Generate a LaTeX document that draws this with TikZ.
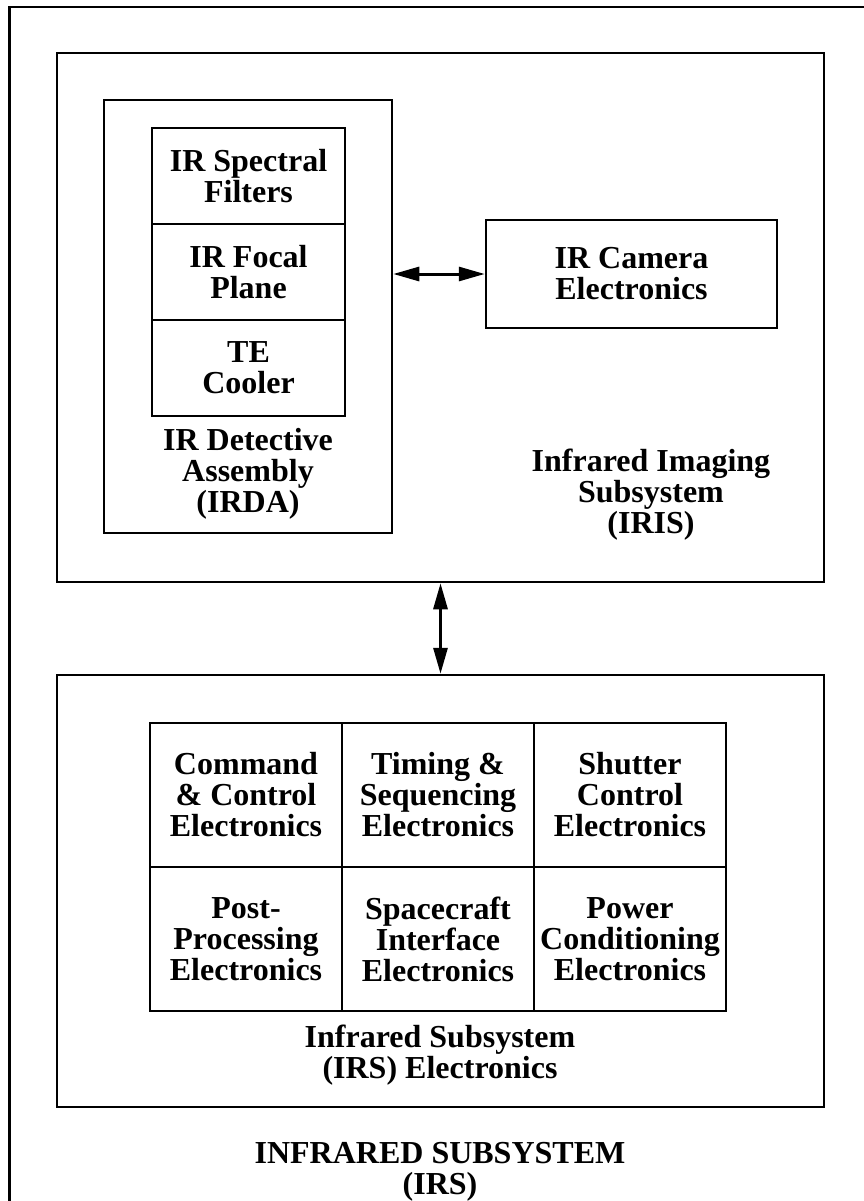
\documentclass[tikz,border=0pt]{standalone}
\usepackage{fontspec}
\setmainfont{Liberation Serif}
\usetikzlibrary{arrows.meta}
\tikzset{x=1pt, y=-1pt, % work in points, y runs downwards
>={Triangle[length=26pt,width=14pt]}, % long narrow arrow heads
every node/.style={font=\fontsize{32}{31}\selectfont\bfseries, align=center},
box/.style={draw, line width=2.5pt, inner sep=0pt}, % every framed block
cell/.style={box, minimum width=192pt, minimum height=144pt}, % electronics grid
layer/.style={box, minimum width=193pt, minimum height=96pt}, % detector stack
boxtext/.style={inner sep=0pt}, % captions under the blocks
link/.style={<->, line width=3pt},
}

\begin{document}
\begin{tikzpicture}
    \useasboundingbox (0,0) rectangle (863,1201);
    % whole subsystem, runs off the page on the right and bottom
    \node[box, anchor=north west, minimum width=1000pt, minimum height=1400pt] (irs) at (8,6) {};

    % imaging subsystem
    \node[box, minimum width=767pt, minimum height=529pt] (iris) at (440.5,317.5) {};
    \node[box, minimum width=288pt, minimum height=433pt] (irda) at (248,316.5) {};
    \node[layer] (filters) at (248.5,176) {IR Spectral\\Filters};
    \node[layer] (focal) at (248.5,272) {IR Focal\\Plane};
    \node[layer] (cooler) at (248.5,368) {TE\\Cooler};
    \node[boxtext] (irdatext) at (248,474) {IR Detective\\Assembly\\(IRDA)};
    \node[box, minimum width=291pt, minimum height=108pt] (camera) at (631.5,274) {IR Camera\\Electronics};
    \node[boxtext] (iristext) at (651,495) {Infrared Imaging\\Subsystem\\(IRIS)};

    % electronics
    \node[box, minimum width=767pt, minimum height=432pt] (irse) at (440.5,891) {};
    \node[cell] (cmd) at (246,795) {Command\\\& Control\\Electronics};
    \node[cell] (timing) at (438,795) {Timing \&\\Sequencing\\Electronics};
    \node[cell] (shutter) at (630,795) {Shutter\\Control\\Electronics};
    \node[cell] (post) at (246,939) {Post-\\Processing\\Electronics};
    \node[cell] (sc) at (438,939) {Spacecraft\\Interface\\Electronics};
    \node[cell] (power) at (630,939) {Power\\Conditioning\\Electronics};
    \node[boxtext] (irsetext) at (440,1055) {Infrared Subsystem\\(IRS) Electronics};

    \node[boxtext] (irstext) at (440,1172) {INFRARED SUBSYSTEM\\(IRS)};

    \draw[link] (irda.east |- camera.west) -- (camera.west);
    \draw[link] (iris.south) -- (irse.north);
  \end{tikzpicture}
\end{document}
